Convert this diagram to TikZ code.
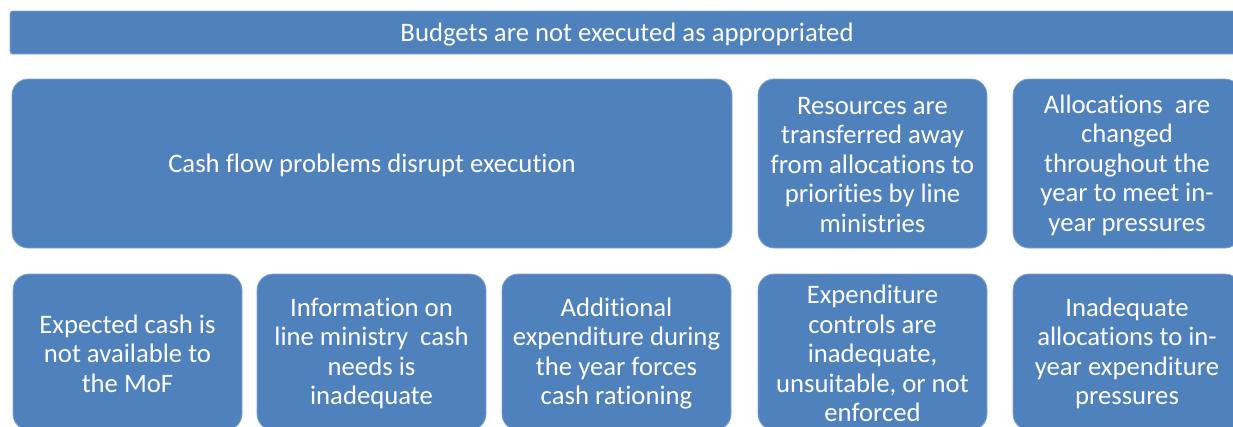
\documentclass[tikz,border=0pt]{standalone}
\usepackage{fontspec}
\setmainfont{Carlito}[Ligatures={NoCommon}]
\definecolor{boxblue}{RGB}{79,129,189}
\definecolor{boxedge}{RGB}{130,165,210}
\begin{document}
\begin{tikzpicture}[x=1pt,y=-1pt,
  box/.style={fill=boxblue,draw=boxedge,line width=0.8pt,rounded corners=16pt},
  lbl/.style={text=white,align=center,font=\fontsize{26.7}{29.5}\selectfont,inner sep=0pt}]
\useasboundingbox (0,0) rectangle (1233,426);
\clip (0,0) rectangle (1233,426);
% banner
\draw[box,rounded corners=2.5pt] (10,11) rectangle (1250,54);
\node[lbl] (top) at (627,34.5) {Budgets are not executed as appropriated};
% row 2
\draw[box] (12,79) rectangle (732,248);
\node[lbl] (cash) at (372,165) {Cash flow problems disrupt execution};
\draw[box] (758,79) rectangle (987,248);
\node[lbl] (res) at (872.5,165) {Resources are\\transferred away\\from allocations to\\priorities by line\\ministries};
\draw[box] (1013,79) rectangle (1241,248);
\node[lbl] (alloc) at (1127,165) {Allocations\ \ are\\changed\\throughout the\\year to meet in-\\year pressures};
% row 3
\draw[box] (13,274) rectangle (242,430);
\node[lbl] (exp) at (127.5,353.5) {Expected cash is\\not available to\\the MoF};
\draw[box] (257,274) rectangle (486,430);
\node[lbl] (info) at (371.5,353.5) {Information on\\line ministry\ \ cash\\needs is\\inadequate};
\draw[box] (502,274) rectangle (731,430);
\node[lbl] (add) at (616.5,353.5) {Additional\\expenditure during\\the year forces\\cash rationing};
\draw[box] (758,274) rectangle (987,430);
\node[lbl] (ctrl) at (872.5,353.5) {Expenditure\\controls are\\inadequate,\\unsuitable, or not\\enforced};
\draw[box] (1013,274) rectangle (1241,430);
\node[lbl] (inad) at (1127,353.5) {Inadequate\\allocations to in-\\year expenditure\\pressures};
\end{tikzpicture}
\end{document}
